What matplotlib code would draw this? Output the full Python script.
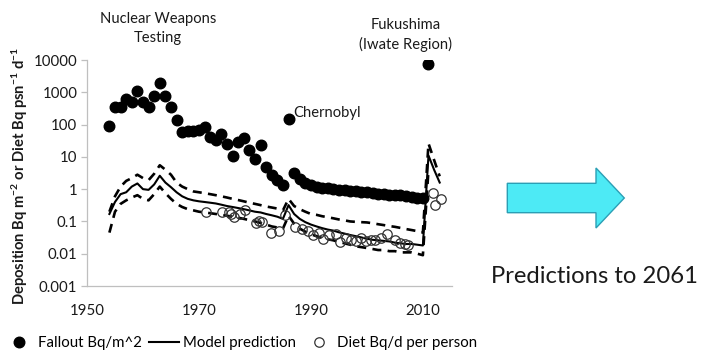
import numpy as np
import matplotlib
matplotlib.use("Agg")
import matplotlib.pyplot as plt
from matplotlib.patches import FancyArrow

plt.rcParams['font.family'] = ['Lato', 'DejaVu Sans']
plt.rcParams['mathtext.default'] = 'regular'

# Datos
fallout_years = [1954, 1955, 1956, 1957, 1958, 1959, 1960, 1961, 1962, 1963,
                 1964, 1965, 1966, 1967, 1968, 1969, 1970, 1971, 1972, 1973,
                 1974, 1975, 1976, 1977, 1978, 1979, 1980, 1981, 1982, 1983,
                 1984, 1985, 1986, 1987, 1988, 1989, 1990, 1991, 1992, 1993,
                 1994, 1995, 1996, 1997, 1998, 1999, 2000, 2001, 2002, 2003,
                 2004, 2005, 2006, 2007, 2008, 2009, 2010, 2011]
fallout = [90, 340, 340, 600, 510, 1100, 510, 340, 760, 1900,
           760, 340, 140, 60, 63, 63, 70, 85, 42, 33,
           50, 25, 11, 29, 38, 16, 8.3, 24, 5.0, 2.8,
           1.9, 1.35, 150, 3.2, 2.0, 1.6, 1.35, 1.2, 1.1, 1.05,
           1.0, 0.97, 0.95, 0.9, 0.87, 0.84, 0.8, 0.76, 0.73, 0.7,
           0.68, 0.66, 0.64, 0.62, 0.58, 0.55, 0.52, 7400]

model_years = list(range(1954, 2014))
model = [0.17, 0.4, 0.7, 0.8, 1.2, 1.5, 1.0, 0.95, 1.4, 2.6,
         1.6, 1.15, 0.8, 0.6, 0.5, 0.45, 0.42, 0.4, 0.38, 0.36,
         0.33, 0.3, 0.28, 0.26, 0.24, 0.22, 0.2, 0.19, 0.17, 0.155,
         0.14, 0.12, 0.32, 0.17, 0.12, 0.095, 0.08, 0.07, 0.062, 0.056,
         0.052, 0.046, 0.042, 0.038, 0.035, 0.032, 0.029, 0.027, 0.026, 0.025,
         0.024, 0.022, 0.021, 0.02, 0.02, 0.019, 0.018, 11, 4, 1.6]
upper = [0.2, 0.6, 1.2, 1.8, 2.2, 2.8, 2.2, 1.9, 3.0, 5.5,
         4.0, 2.8, 1.6, 1.2, 1.0, 0.85, 0.8, 0.75, 0.7, 0.65,
         0.6, 0.55, 0.5, 0.46, 0.42, 0.38, 0.35, 0.32, 0.29, 0.27,
         0.25, 0.22, 0.5, 0.3, 0.24, 0.2, 0.17, 0.16, 0.145, 0.135,
         0.125, 0.115, 0.108, 0.1, 0.097, 0.095, 0.093, 0.088, 0.082, 0.077,
         0.072, 0.068, 0.063, 0.058, 0.054, 0.05, 0.045, 26, 8, 2.5]
lower = [0.045, 0.2, 0.35, 0.45, 0.55, 0.65, 0.5, 0.45, 0.7, 1.2,
         0.75, 0.5, 0.35, 0.28, 0.24, 0.22, 0.2, 0.19, 0.18, 0.17,
         0.16, 0.15, 0.14, 0.13, 0.12, 0.11, 0.1, 0.09, 0.08, 0.07,
         0.065, 0.06, 0.15, 0.085, 0.06, 0.048, 0.04, 0.035, 0.031, 0.028,
         0.026, 0.023, 0.021, 0.019, 0.017, 0.016, 0.015, 0.014, 0.013, 0.013,
         0.012, 0.012, 0.011, 0.011, 0.011, 0.01, 0.009, 4, np.nan, np.nan]

diet_years = [1971.3, 1974.2, 1975.3, 1976.3, 1977.3, 1978.3, 1975.8, 1980.2,
              1981.2, 1980.8, 1982.8, 1984.3, 1985.4, 1987.2, 1988.4, 1989.5,
              1990.3, 1991.5, 1992.2, 1993.2, 1994.4, 1995.2, 1996.2, 1997.1,
              1998.0, 1999.0, 1999.8, 2000.7, 2001.5, 2002.5, 2003.5, 2005.0,
              2005.9, 2006.8, 2007.4, 2011.8, 2012.2, 2013.3]
diet = [0.19, 0.19, 0.2, 0.14, 0.17, 0.22, 0.17, 0.09,
        0.095, 0.1, 0.045, 0.05, 0.155, 0.066, 0.06, 0.052,
        0.037, 0.045, 0.029, 0.037, 0.04, 0.023, 0.03, 0.027,
        0.024, 0.03, 0.024, 0.027, 0.027, 0.03, 0.04, 0.027,
        0.022, 0.02, 0.018, 0.75, 0.33, 0.48]

ytick_vals = [0.001, 0.01, 0.1, 1, 10, 100, 1000, 10000]
ytick_labels = ['0.001', '0.01', '0.1', '1', '10', '100', '1000', '10000']
xtick_vals = [1950, 1970, 1990, 2010]

# --- Figura ---
fig = plt.figure(figsize=(7.01, 3.52), dpi=100)
ax = fig.add_axes([87 / 701, 66 / 352, 365 / 701, 226 / 352])

dash = (0, (3.4, 2.4))
ax.plot(model_years, upper, color='black', lw=1.9, linestyle=dash)
ax.plot(model_years, lower, color='black', lw=1.9, linestyle=dash)
l_model, = ax.plot(model_years, model, color='black', lw=1.5,
                   label='Model prediction')
l_fall, = ax.plot(fallout_years, fallout, 'o', color='black', ms=7.6,
                  linestyle='none', label='Fallout Bq/m^2')
l_diet, = ax.plot(diet_years, diet, 'o', mfc='none', mec='#333333', mew=0.9,
                  ms=6.8, linestyle='none', label='Diet Bq/d per person')

ax.set_yscale('log')
ax.set_ylim(0.001, 10000)
ax.set_xlim(1950, 2015.2)
ax.set_yticks(ytick_vals)
ax.set_yticklabels(ytick_labels)
ax.minorticks_off()
ax.set_xticks(xtick_vals)

for s in ['top', 'right']:
    ax.spines[s].set_visible(False)
for s in ['left', 'bottom']:
    ax.spines[s].set_color('#bfbfbf')
    ax.spines[s].set_linewidth(0.9)
ax.tick_params(axis='y', colors='#bfbfbf', labelcolor='#1a1a1a',
               length=4, width=0.9, labelsize=10.8, pad=3)
ax.tick_params(axis='x', length=0, labelcolor='#1a1a1a', labelsize=10.8, pad=13)

ax.set_ylabel('Deposition Bq m$^{-2}$ or Diet Bq psn$^{-1}$ d$^{-1}$',
              fontsize=10.6, fontweight='bold', color='#1a1a1a')
ax.yaxis.set_label_coords(-0.155, 0.485)

# Anotaciones de eventos
ax.text(1962.7, 10**4.99, 'Nuclear Weapons\nTesting', ha='center', va='center',
        fontsize=10.6, color='#1a1a1a', clip_on=False, linespacing=1.45)
ax.text(2006.9, 10**4.78, 'Fukushima\n(Iwate Region)', ha='center', va='center',
        fontsize=10.6, color='#1a1a1a', clip_on=False, linespacing=1.45)
ax.text(1986.8, 10**2.37, 'Chernobyl', ha='left', va='center',
        fontsize=10.6, color='#1a1a1a')

fig.legend(handles=[l_fall, l_model, l_diet], loc='center left',
           bbox_to_anchor=(0.006, 9 / 352), ncol=3, frameon=False,
           fontsize=10.8, handlelength=2.0, handletextpad=0.25,
           columnspacing=0.5, borderaxespad=0, borderpad=0)

# Flecha y texto de predicciones
arrow = FancyArrow(507.3 / 701, (352 - 198) / 352, (624.3 - 507.3) / 701, 0,
                   width=29.4 / 352, head_width=60 / 352,
                   head_length=28.3 / 701, length_includes_head=True,
                   transform=fig.transFigure, facecolor='#4deaf5',
                   edgecolor='#2b9fb5', linewidth=1.0)
fig.patches.append(arrow)
fig.text(490.7 / 701, (352 - 283) / 352, 'Predictions to 2061', fontsize=17.2,
         color='#1a1a1a', ha='left', va='baseline')

fig.savefig('out.png', dpi=100)
